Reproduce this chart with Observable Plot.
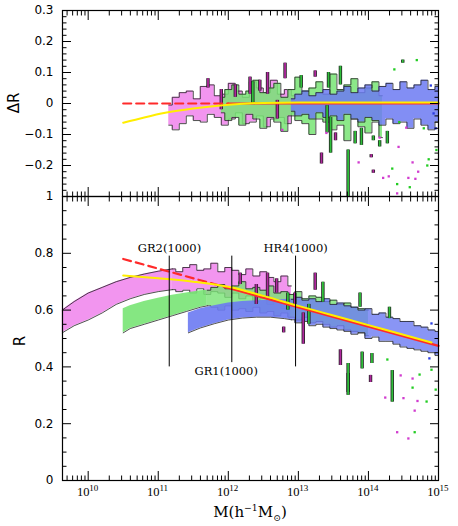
<!DOCTYPE html>
<html><head><meta charset="utf-8">
<script src="https://cdn.jsdelivr.net/npm/d3@7"></script>
<script src="https://cdn.jsdelivr.net/npm/@observablehq/plot@0.6"></script>
<style>
body{margin:0;background:#fff;}
#chart{position:relative;width:458px;height:526px;overflow:hidden;}
#chart svg{position:absolute;left:0;}
sup,sub{font-size:0.62em;line-height:0;}
</style></head><body><div id="chart"></div>
<script>
// ---- axes / ticks ----
const xDomain = [4.3e9, 1e15];
const xMajor = [1e10, 1e11, 1e12, 1e13, 1e14, 1e15];
const xTickBase = ["10","10","10","10","10","10"];
const xTickExp = ["10","11","12","13","14","15"];
const topYMajor = [-0.3,-0.2,-0.1,0,0.1,0.2,0.3];
const topYLabels = ["","−0.2","−0.1","0","0.1","0.2","0.3"];
const botYMajor = [0,0.2,0.4,0.6,0.8,1];
const botYLabels = ["0","0.2","0.4","0.6","0.8","1"];

// ---- bottom panel: R bands (log10 M) ----
const magSmoothLogM = [9.63,9.8,10.0,10.2,10.4,10.6,10.8,11.0,11.2];
const magSmoothLo   = [0.52,0.545,0.565,0.59,0.62,0.64,0.655,0.665,0.672];
const magSmoothHi   = [0.60,0.63,0.66,0.68,0.70,0.715,0.727,0.737,0.745];
const magJagLogM = [11.2,11.3,11.4,11.5,11.6,11.7,11.8,11.9,12.0,12.1,12.2,12.3,12.4,12.5,12.6,12.7,12.8,12.9];
const magJagHi   = [0.745,0.735,0.75,0.76,0.74,0.745,0.765,0.735,0.75,0.74,0.725,0.745,0.72,0.735,0.715,0.70,0.72,0.685];
const magJagLo   = [0.672,0.665,0.67,0.66,0.675,0.655,0.665,0.66,0.645,0.66,0.64,0.65,0.63,0.64,0.62,0.63,0.605,0.61];

const grnSmoothLogM = [10.5,10.6,10.8,11.0,11.2,11.4,11.6,11.7];
const grnSmoothLo   = [0.52,0.535,0.55,0.565,0.58,0.595,0.61,0.615];
const grnSmoothHi   = [0.605,0.615,0.63,0.642,0.652,0.66,0.668,0.67];
const grnJagLogM = [11.7,11.8,11.9,12.0,12.1,12.2,12.3,12.4,12.5,12.6,12.7,12.8,12.9,13.0,13.1,13.2,13.3,13.4,13.5,13.6,13.7,13.8,13.9,14.0];
const grnJagHi   = [0.67,0.68,0.69,0.675,0.685,0.70,0.675,0.68,0.67,0.685,0.66,0.665,0.655,0.665,0.64,0.65,0.645,0.63,0.635,0.62,0.625,0.61,0.605,0.60];
const grnJagLo   = [0.615,0.61,0.60,0.615,0.60,0.605,0.595,0.61,0.59,0.595,0.58,0.59,0.575,0.565,0.575,0.555,0.56,0.55,0.54,0.545,0.53,0.525,0.52,0.51];

const bluSmoothLogM = [11.43,11.6,11.8,12.0,12.2,12.4,12.6,12.8,12.9];
const bluSmoothLo   = [0.52,0.537,0.552,0.565,0.572,0.575,0.575,0.57,0.566];
const bluSmoothHi   = [0.59,0.605,0.615,0.625,0.63,0.633,0.635,0.637,0.638];
const bluJagLogM = [12.9,13.0,13.1,13.2,13.3,13.4,13.5,13.6,13.7,13.8,13.9,14.0,14.1,14.2,14.3,14.4,14.5,14.6,14.7,14.8,14.9,15.0];
const bluJagHi   = [0.638,0.645,0.635,0.64,0.63,0.64,0.62,0.625,0.615,0.61,0.60,0.605,0.585,0.59,0.575,0.57,0.56,0.56,0.545,0.54,0.53,0.525];
const bluJagLo   = [0.566,0.555,0.56,0.545,0.55,0.54,0.535,0.53,0.525,0.515,0.52,0.50,0.505,0.49,0.49,0.48,0.47,0.465,0.46,0.455,0.45,0.44];

// ---- top panel: ΔR bands ----
const magDRLogM = [11.15,11.25,11.35,11.45,11.55,11.65,11.75,11.85,11.95,12.05,12.15,12.25,12.35,12.45,12.55,12.65,12.75,12.85,12.95];
const magDRLo   = [-0.07,-0.085,-0.065,-0.04,-0.055,-0.06,-0.035,-0.045,-0.07,-0.05,-0.03,-0.065,-0.06,-0.04,-0.075,-0.05,-0.045,-0.065,-0.03];
const magDRHi   = [-0.005,0.02,0.035,0.04,0.015,0.055,0.06,0.025,0.03,0.065,0.04,0.02,0.07,0.05,0.035,0.075,0.03,0.045,0.025];
const grnDRLogM = [11.9,12.0,12.1,12.2,12.3,12.4,12.5,12.6,12.7,12.8,12.9,13.0,13.1,13.2,13.3,13.4,13.5,13.6,13.7,13.8,13.9,14.0,14.1,14.2];
const grnDRLo   = [-0.03,-0.055,-0.045,-0.07,-0.035,-0.05,-0.08,-0.045,-0.06,-0.09,-0.04,-0.055,-0.065,-0.10,-0.05,-0.06,-0.085,-0.07,-0.12,-0.05,-0.075,-0.095,-0.06,-0.11];
const grnDRHi   = [0.02,0.045,0.06,0.03,0.04,0.075,0.035,0.05,0.065,0.02,0.045,0.085,0.04,0.05,0.07,0.03,0.095,0.045,0.06,0.08,0.035,0.05,0.07,0.025];
const bluDRLogM = [12.9,13.0,13.1,13.2,13.3,13.4,13.5,13.6,13.7,13.8,13.9,14.0,14.1,14.2,14.3,14.4,14.5,14.6,14.7,14.8,14.9,15.0];
const bluDRLo   = [-0.025,-0.04,-0.035,-0.05,-0.03,-0.045,-0.04,-0.055,-0.035,-0.05,-0.06,-0.045,-0.055,-0.07,-0.05,-0.065,-0.06,-0.08,-0.05,-0.07,-0.085,-0.06];
const bluDRHi   = [0.015,0.03,0.04,0.025,0.035,0.045,0.03,0.04,0.055,0.035,0.05,0.06,0.04,0.055,0.065,0.045,0.07,0.05,0.06,0.075,0.045,0.055];

// ---- isolated spikes [log10 M, from, to] and dots [log10 M, value] ----
const topSpikesMag = [[11.71,0.05,0.08],[12.31,0.03,0.085],[12.56,0.03,0.10],[12.81,0.08,0.13],[12.45,0.04,0.075],[12.1,0.02,0.06],[11.9,-0.02,0.045],[12.7,-0.05,0.01],[13.24,0.085,0.105],[13.33,-0.16,-0.195],[13.53,-0.095,-0.12],[14.04,-0.165,-0.175],[14.07,-0.215,-0.225]];
const topSpikesGrn = [[14.49,0.13,0.14],[13.71,-0.15,-0.30],[13.9,-0.08,-0.135],[13.81,-0.09,-0.13],[14.07,-0.105,-0.12],[14.16,-0.12,-0.14],[14.27,-0.09,-0.13],[13.46,-0.045,-0.16],[13.43,0.05,0.10],[13.04,0.05,0.09],[13.6,0.06,0.12],[13.41,-0.007,-0.095],[12.35,0.0,0.07]];
const topDotsMag = [[13.4,-0.095],[12.77,-0.085],[13.86,-0.19],[14.16,-0.11],[14.21,-0.24],[14.29,-0.235],[14.43,-0.14],[14.54,-0.078],[14.57,-0.24],[14.63,-0.19],[14.71,-0.22],[14.67,-0.243],[14.41,-0.29]];
const topDotsGrn = [[14.37,0.11],[14.69,0.14],[14.44,-0.06],[14.34,-0.21],[14.41,-0.26],[14.59,-0.27],[14.84,-0.2],[14.86,-0.18],[14.97,-0.15],[14.79,-0.08]];
const topDotsBlu = [[14.89,0.058],[14.93,-0.032],[14.96,-0.08]];

const botSpikesMag = [[13.24,0.67,0.73],[13.6,0.405,0.46],[13.71,0.31,0.377],[14.03,0.345,0.37],[12.56,0.645,0.73],[12.69,0.66,0.71],[13.07,0.48,0.59],[12.17,0.69,0.73],[12.79,0.52,0.54],[12.4,0.62,0.69],[12.95,0.62,0.66]];
const botSpikesGrn = [[13.91,0.393,0.452],[13.71,0.30,0.412],[14.05,0.412,0.447],[14.34,0.276,0.387],[13.35,0.628,0.698],[13.88,0.61,0.66],[14.3,0.57,0.61],[12.85,0.6,0.66],[13.15,0.55,0.62]];
const botDotsMag = [[14.24,0.292],[14.46,0.37],[14.41,0.17],[14.57,0.148],[14.5,0.29],[14.7,0.28],[14.66,0.246],[14.63,0.359]];
const botDotsGrn = [[14.27,0.426],[14.63,0.327],[14.73,0.373],[14.83,0.278],[14.96,0.32],[14.66,0.17],[14.9,0.39]];
const botDotsBlu = [[14.87,0.43],[14.9,0.553]];

// ---- fit lines ----
const redDashLogM = [10.5,12.0], redDashR = [0.78,0.678], redDashDR = [0,0];
const redSolidLogM = [12.0,15.0], redSolidR = [0.678,0.474], redSolidDR = [0,0];
const yelLogM = [10.5,11.0,11.5,12.0,12.5,13.0,13.5,14.0,14.5,14.9];
const yelR    = [0.722,0.712,0.700,0.682,0.650,0.615,0.581,0.547,0.513,0.486];
const yelDRLogM = [10.5,10.8,11.1,11.5,12.0,12.5,13.0,15.0];
const yelDR     = [-0.062,-0.045,-0.03,-0.016,-0.004,0.002,0.003,0.003];

// ---- reference masses ----
const refNames = ["GR2(1000)","GR1(1000)","HR4(1000)"];
const refLogM  = [11.157,12.05,12.96];
const refLo    = [0.40,0.415,0.40];
const refHi    = [0.79,0.79,0.79];
const refLabelR = [0.817,0.385,0.817];
const refLabelLogM = [11.16,11.97,12.96];

// ---- helpers ----
const M = l => 10 ** l;
const band = (lm, lo, hi) => lm.map((l,i)=>({M:M(l), lo:lo[i], hi:hi[i]}));
const pts = (lm, v) => lm.map((l,i)=>({M:M(l), v:v[i]}));
const spk = a => a.map(([l,a1,a2])=>({M:M(l), a1, a2}));
const dts = a => a.map(([l,v])=>({M:M(l), v}));

const COL = {mag:"#f082ec", grn:"#78e474", blu:"#6c7af2", magD:"#b0279e", grnD:"#2fbf3a", bluD:"#2b3de0"};

function outline(rows, curve) {
  return [
    Plot.line(rows, {x:"M", y:"lo", stroke:"#222", strokeWidth:0.8, curve}),
    Plot.line(rows, {x:"M", y:"hi", stroke:"#222", strokeWidth:0.8, curve})
  ];
}
function fillArea(rows, fill, curve, op=0.85) {
  return Plot.areaY(rows, {x:"M", y1:"lo", y2:"hi", fill, fillOpacity:op, curve});
}
function bandMarks(rows, fill, curve) { return [fillArea(rows, fill, curve), ...outline(rows, curve)]; }
function spikeMarks(rows, color) {
  return [
    Plot.ruleX(rows, {x:"M", y1:"a1", y2:"a2", stroke:"#222", strokeWidth:3.4}),
    Plot.ruleX(rows, {x:"M", y1:"a1", y2:"a2", stroke:color, strokeWidth:1.8})
  ];
}
function dotMarks(rows, color) {
  return Plot.dot(rows, {x:"M", y:"v", symbol:"square", r:1.3, fill:color, stroke:"none"});
}

const xMinor = [];
for (let e = 9; e <= 14; e++) for (let k = 2; k <= 9; k++) {
  const v = k * 10 ** e; if (v >= xDomain[0] && v <= xDomain[1]) xMinor.push(v);
}
const topYMinor = d3.range(-15,16).filter(i=>i%5!==0).map(i=>i*0.02);
const botYMinor = d3.range(0,21).filter(i=>i%4!==0).map(i=>i*0.05);
const blank = () => "";

function frameAxes(yMajor, yLabels, yMinor, showX) {
  const marks = [
    Plot.frame({stroke:"black", strokeWidth:1.2}),
    Plot.axisX(xMajor, {anchor:"bottom", tickSize:-9, label:null, tickFormat:blank}),
    Plot.axisX(xMinor, {anchor:"bottom", tickSize:-4.5, label:null, tickFormat:blank}),
    Plot.axisX(xMajor, {anchor:"top", tickSize:-9, label:null, tickFormat:blank}),
    Plot.axisX(xMinor, {anchor:"top", tickSize:-4.5, label:null, tickFormat:blank}),
    Plot.axisY(yMajor, {anchor:"left", tickSize:-9, tickPadding:18, label:null,
      tickFormat: d => yLabels[yMajor.indexOf(d)]}),
    Plot.axisY(yMinor, {anchor:"left", tickSize:-4.5, label:null, tickFormat:blank}),
    Plot.axisY(yMajor, {anchor:"right", tickSize:-9, label:null, tickFormat:blank}),
    Plot.axisY(yMinor, {anchor:"right", tickSize:-4.5, label:null, tickFormat:blank})
  ];
  if (showX) {
    marks.push(
      Plot.text(xMajor, {x:d=>d, frameAnchor:"bottom", text:(d,i)=>xTickBase[i], lineAnchor:"bottom",
        dy:15, dx:-5, fontFamily:"Liberation Serif, serif", fontSize:12.5, fill:"black"}),
      Plot.text(xMajor, {x:d=>d, frameAnchor:"bottom", text:(d,i)=>xTickExp[i], lineAnchor:"bottom",
        dy:10, dx:5.5, fontFamily:"Liberation Serif, serif", fontSize:9, fill:"black"})
    );
  }
  return marks;
}

const common = {
  width:458, marginLeft:62, marginRight:20,
  x:{type:"log", domain:xDomain},
  style:{fontFamily:"DejaVu Sans, sans-serif", fontSize:"12px", background:"transparent", overflow:"visible", color:"black"}
};

const topPlot = Plot.plot({
  ...common, height:196, marginTop:10, marginBottom:0,
  y:{domain:[-0.3,0.3]},
  marks:[
    ...bandMarks(band(magDRLogM, magDRLo, magDRHi), COL.mag, "step"),
    ...bandMarks(band(grnDRLogM, grnDRLo, grnDRHi), COL.grn, "step"),
    ...bandMarks(band(bluDRLogM, bluDRLo, bluDRHi), COL.blu, "step"),
    ...spikeMarks(spk(topSpikesMag), COL.magD),
    ...spikeMarks(spk(topSpikesGrn), COL.grnD),
    dotMarks(dts(topDotsMag), "#d13ccf"),
    dotMarks(dts(topDotsGrn), "#22cc22"),
    dotMarks(dts(topDotsBlu), COL.bluD),
    Plot.line(pts(redDashLogM, redDashDR), {x:"M", y:"v", stroke:"#ff2a2a", strokeWidth:2.2, strokeDasharray:"8,5"}),
    Plot.line(pts(redSolidLogM, redSolidDR), {x:"M", y:"v", stroke:"#ff2a2a", strokeWidth:2.2}),
    Plot.line(pts(yelDRLogM, yelDR), {x:"M", y:"v", stroke:"#ffee00", strokeWidth:2, curve:"monotone-x"}),
    ...frameAxes(topYMajor, topYLabels, topYMinor, false)
  ]
});

const refRows = refNames.map((n,i)=>({name:n, M:M(refLogM[i]), lo:refLo[i], hi:refHi[i], LM:M(refLabelLogM[i]), LR:refLabelR[i]}));

const magS = band(magSmoothLogM, magSmoothLo, magSmoothHi), magJ = band(magJagLogM, magJagLo, magJagHi);
const grnS = band(grnSmoothLogM, grnSmoothLo, grnSmoothHi), grnJ = band(grnJagLogM, grnJagLo, grnJagHi);
const bluS = band(bluSmoothLogM, bluSmoothLo, bluSmoothHi), bluJ = band(bluJagLogM, bluJagLo, bluJagHi);

const botPlot = Plot.plot({
  ...common, height:340, marginTop:10, marginBottom:46,
  y:{domain:[0,1]},
  marks:[
    fillArea(magS, COL.mag, "linear"), fillArea(magJ, COL.mag, "step"),
    ...outline(magS, "linear"), ...outline(magJ, "step"),
    fillArea(grnS, COL.grn, "linear", 0.9), fillArea(grnJ, COL.grn, "step", 0.8),
    Plot.line(grnS, {x:"M", y:"lo", stroke:"#222", strokeWidth:0.8}),
    ...outline(grnJ, "step"),
    fillArea(bluS, COL.blu, "linear", 0.9), fillArea(bluJ, COL.blu, "step", 0.8),
    Plot.line(bluS, {x:"M", y:"lo", stroke:"#222", strokeWidth:0.8}),
    ...outline(bluJ, "step"),
    ...spikeMarks(spk(botSpikesMag), COL.magD),
    ...spikeMarks(spk(botSpikesGrn), COL.grnD),
    dotMarks(dts(botDotsMag), "#d13ccf"),
    dotMarks(dts(botDotsGrn), "#22cc22"),
    dotMarks(dts(botDotsBlu), COL.bluD),
    Plot.line(pts(redDashLogM, redDashR), {x:"M", y:"v", stroke:"#ff2a2a", strokeWidth:2.2, strokeDasharray:"8,5"}),
    Plot.line(pts(redSolidLogM, redSolidR), {x:"M", y:"v", stroke:"#ff2a2a", strokeWidth:2.2}),
    Plot.line(pts(yelLogM, yelR), {x:"M", y:"v", stroke:"#ffee00", strokeWidth:2, curve:"monotone-x"}),
    Plot.ruleX(refRows, {x:"M", y1:"lo", y2:"hi", stroke:"black", strokeWidth:1}),
    Plot.text(refRows, {x:"LM", y:"LR", text:"name", fontFamily:"DejaVu Serif, serif", fontSize:11.5, fill:"black"}),
    ...frameAxes(botYMajor, botYLabels, botYMinor, true)
  ]
});

const chart = document.getElementById("chart");
topPlot.style.top = "0px";
botPlot.style.top = "186px";
chart.appendChild(botPlot);
chart.appendChild(topPlot);

function addLabel(html, cx, cy, css, rotate) {
  const d = document.createElement("div");
  d.innerHTML = html;
  d.style.cssText = `position:absolute;left:${cx}px;top:${cy}px;transform:translate(-50%,-50%)${rotate ? " rotate(-90deg)" : ""};white-space:nowrap;line-height:1;${css}`;
  chart.appendChild(d);
}
addLabel("ΔR", 14, 103, "font-family:'DejaVu Sans',sans-serif;font-size:15px;", true);
addLabel("R", 20, 341, "font-family:'DejaVu Sans',sans-serif;font-size:15px;", true);
addLabel("M(h<sup>−1</sup>M<sub>⊙</sub>)", 250, 512, "font-family:'DejaVu Serif',serif;font-size:15px;", false);
</script></body></html>
